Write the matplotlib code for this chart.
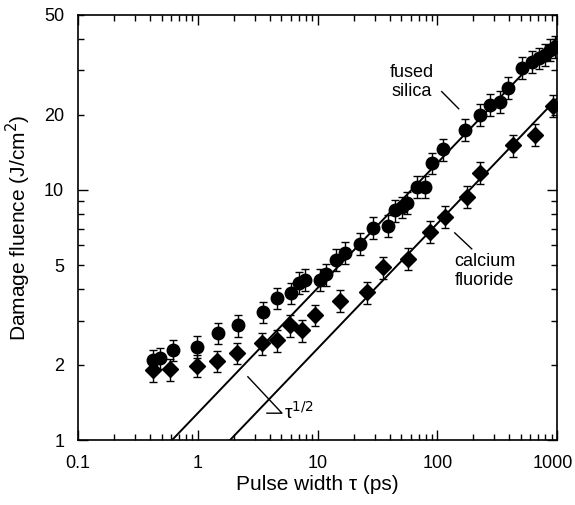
import numpy as np
import matplotlib
matplotlib.use("Agg")
import matplotlib.pyplot as plt
import matplotlib.transforms as mtransforms
from matplotlib.ticker import FixedLocator, FixedFormatter, NullFormatter

plt.rcParams['font.family'] = ['Liberation Sans', 'DejaVu Sans']

# fused silica (circles)
silica_tau = [0.42, 0.48, 0.62, 0.98, 1.47, 2.17, 3.5, 4.6, 6.0, 7.0, 7.85, 10.5, 11.7,
              14.2, 17, 22.6, 29, 38.7, 44, 50.7, 56, 67.6, 79, 90, 111, 170, 227,
              275, 331, 387, 508, 617, 705, 794, 871, 955]
silica_f = [2.09, 2.13, 2.29, 2.36, 2.68, 2.88, 3.25, 3.7, 3.87, 4.25, 4.37, 4.37, 4.6,
            5.25, 5.6, 6.1, 7.05, 7.2, 8.3, 8.55, 8.9, 10.3, 10.3, 12.8, 14.5, 17.4, 20.0,
            21.9, 22.5, 25.6, 30.8, 32.5, 33.7, 34.7, 36.3, 37.3]

# calcium fluoride (diamonds)
caf_tau = [0.42, 0.59, 0.98, 1.45, 2.13, 3.44, 4.6, 5.9, 7.4, 9.5, 15.4, 25.8, 35,
           57, 87, 115, 177, 227, 427, 653, 922]
caf_f = [1.9, 1.92, 1.98, 2.07, 2.23, 2.44, 2.5, 2.88, 2.75, 3.16, 3.6, 3.9, 4.9,
         5.3, 6.8, 7.8, 9.4, 11.7, 15.1, 16.6, 21.7]

rel_err = 0.10

# tau^1/2 fits: F = a * sqrt(tau)
fit_silica = 1.28
fit_caf = 0.733

fig = plt.figure(figsize=(5.75, 5.05), dpi=100)
ax = fig.add_axes([0.1357, 0.1287, 0.833, 0.8416])

ax.errorbar(silica_tau, silica_f, yerr=np.array(silica_f) * rel_err, fmt='o',
            color='black', ms=9, capsize=3, elinewidth=1, capthick=1)
ax.errorbar(caf_tau, caf_f, yerr=np.array(caf_f) * rel_err, fmt='D',
            color='black', ms=8.5, capsize=3, elinewidth=1, capthick=1)

for a in (fit_silica, fit_caf):
    t = np.logspace(np.log10(1 / a**2), 3, 50)
    ax.plot(t, a * np.sqrt(t), color='black', lw=1.4)

ax.set_xscale('log')
ax.set_yscale('log')
ax.set_xlim(0.1, 1000)
ax.set_ylim(1, 50)

ax.set_xticks([0.1, 1, 10, 100, 1000])
ax.set_xticklabels(['0.1', '1', '10', '100', '1000'])
ax.yaxis.set_major_locator(FixedLocator([1, 10]))
ax.yaxis.set_major_formatter(FixedFormatter(['1', '10']))
ax.yaxis.set_minor_locator(FixedLocator([2, 3, 4, 5, 6, 7, 8, 9, 20, 30, 40, 50]))
ax.yaxis.set_minor_formatter(FixedFormatter(['2', '', '', '5', '', '', '', '', '20', '', '', '50']))
ax.xaxis.set_minor_formatter(NullFormatter())

ax.tick_params(which='both', direction='in', top=True, right=True, labelsize=13)
ax.tick_params(which='major', length=7, width=1)
ax.tick_params(which='minor', length=4, width=1)
ax.tick_params(axis='x', which='both', pad=11)
ax.tick_params(axis='y', which='both', pad=10)
for s in ax.spines.values():
    s.set_linewidth(1.2)

# nudge "1000" left so it stays inside the figure
last = ax.get_xticklabels()[-1]
last.set_transform(last.get_transform() + mtransforms.ScaledTranslation(-3 / 72, 0, fig.dpi_scale_trans))

ax.set_xlabel('Pulse width τ (ps)', fontsize=15, labelpad=2)
ax.set_ylabel('Damage fluence (J/cm$^2$)', fontsize=15, labelpad=8)

ax.text(61, 27, 'fused\nsilica', ha='center', va='center', fontsize=13, linespacing=1.1)
ax.plot([109, 151], [24.7, 21.1], color='black', lw=1)
ax.text(249, 4.74, 'calcium\nfluoride', ha='center', va='center', fontsize=13, linespacing=1.1)
ax.plot([140, 194], [6.73, 5.81], color='black', lw=1)
ax.plot([2.62, 5.05, 3.78], [1.79, 1.28, 1.28], color='black', lw=1)
ax.text(5.3, 1.3, 'τ$^{1/2}$', ha='left', va='center', fontsize=14)

fig.savefig('out.png', dpi=100)
